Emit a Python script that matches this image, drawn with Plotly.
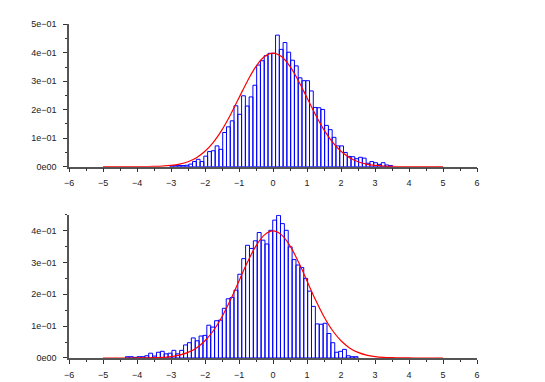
import plotly.graph_objects as go
from plotly.subplots import make_subplots

# ---------------- data ----------------
# top histogram: first bin edge, bin width, bin heights (density)
top_edge0 = -3.033
top_width = 0.111
top_heights = [0.003, 0.004, 0.004, 0.004, 0.005, 0.009, 0.018, 0.026, 0.018, 0.037,
               0.053, 0.056, 0.073, 0.061, 0.120, 0.140, 0.161, 0.214, 0.184, 0.249,
               0.213, 0.245, 0.286, 0.357, 0.372, 0.390, 0.398, 0.398, 0.462, 0.412,
               0.436, 0.402, 0.374, 0.354, 0.312, 0.302, 0.302, 0.266, 0.208, 0.207,
               0.201, 0.145, 0.130, 0.103, 0.073, 0.073, 0.050, 0.036, 0.035, 0.028,
               0.033, 0.030, 0.012, 0.018, 0.014, 0.008, 0.014, 0.006, 0.004]

# bottom histogram
bot_edge0 = -4.34
bot_width = 0.114
bot_heights = [0.004, 0.004, 0.002, 0.004, 0.004, 0.007, 0.015, 0.006, 0.018, 0.021,
               0.013, 0.015, 0.024, 0.013, 0.024, 0.041, 0.048, 0.063, 0.054, 0.069,
               0.071, 0.103, 0.097, 0.117, 0.119, 0.156, 0.186, 0.190, 0.213, 0.263,
               0.312, 0.354, 0.344, 0.368, 0.394, 0.370, 0.358, 0.401, 0.433, 0.448,
               0.422, 0.401, 0.349, 0.309, 0.292, 0.284, 0.250, 0.210, 0.162, 0.107,
               0.106, 0.109, 0.077, 0.048, 0.018, 0.021, 0.027, 0.007, 0.004, 0.004]

# red density curve, values read at steps of 0.25 from -5 to 5
curve_x = [-5.0, -4.75, -4.5, -4.25, -4.0, -3.75, -3.5, -3.25, -3.0, -2.75,
           -2.5, -2.25, -2.0, -1.75, -1.5, -1.25, -1.0, -0.75, -0.5, -0.25,
           0.0, 0.25, 0.5, 0.75, 1.0, 1.25, 1.5, 1.75, 2.0, 2.25,
           2.5, 2.75, 3.0, 3.25, 3.5, 3.75, 4.0, 4.25, 4.5, 4.75, 5.0]
curve_y = [0.0, 0.0, 0.0, 0.0, 0.0001, 0.0004, 0.0009, 0.002, 0.0044, 0.0091,
           0.0175, 0.0317, 0.054, 0.0863, 0.1295, 0.1826, 0.242, 0.3011, 0.3521, 0.3867,
           0.3989, 0.3867, 0.3521, 0.3011, 0.242, 0.1826, 0.1295, 0.0863, 0.054, 0.0317,
           0.0175, 0.0091, 0.0044, 0.002, 0.0009, 0.0004, 0.0001, 0.0, 0.0, 0.0, 0.0]

x_ticks = [-6, -5, -4, -3, -2, -1, 0, 1, 2, 3, 4, 5, 6]
top_yticks = [0.0, 0.1, 0.2, 0.3, 0.4, 0.5]
top_ylabels = ["0e00", "1e\u221201", "2e\u221201", "3e\u221201", "4e\u221201", "5e\u221201"]
bot_yticks = [0.0, 0.1, 0.2, 0.3, 0.4]
bot_ylabels = ["0e00", "1e\u221201", "2e\u221201", "3e\u221201", "4e\u221201"]

# ---------------- figure ----------------
fig = make_subplots(rows=2, cols=1)

def centers(edge0, width, n):
    return [edge0 + width * (i + 0.5) for i in range(n)]

BLUE = "#0000ff"
for row, (e0, w, h) in enumerate([(top_edge0, top_width, top_heights),
                                  (bot_edge0, bot_width, bot_heights)], start=1):
    fig.add_trace(go.Bar(x=centers(e0, w, len(h)), y=h, width=w,
                         marker=dict(color="rgba(0,0,0,0)",
                                     line=dict(color=BLUE, width=1)),
                         showlegend=False, hoverinfo="skip"), row=row, col=1)
    fig.add_trace(go.Scatter(x=curve_x, y=curve_y, mode="lines",
                             line=dict(color="#ff0000", width=1.2, shape="spline"),
                             showlegend=False, hoverinfo="skip"), row=row, col=1)

font = dict(family="Liberation Sans, Arial, sans-serif", size=9, color="#222222")
axis_common = dict(showline=True, linecolor="#555555", linewidth=1.5,
                   showgrid=False, zeroline=False, ticks="outside", ticklen=4,
                   tickcolor="#333333", tickwidth=1, tickfont=font,
                   automargin=False, fixedrange=True)

for ax in ("xaxis", "xaxis2"):
    fig.layout[ax].update(range=[-6, 6], tickvals=x_ticks,
                          minor=dict(dtick=0.5, tick0=0, ticks="outside", ticklen=2.5,
                                     tickcolor="#333333", tickwidth=1),
                          ticklabelstandoff=3, **axis_common)

fig.layout.yaxis.update(range=[0, 0.5], tickvals=top_yticks, ticktext=top_ylabels,
                        domain=[0.5846, 0.9573],
                        minor=dict(dtick=0.05, tick0=0, ticks="outside", ticklen=2.5,
                                   tickcolor="#333333", tickwidth=1),
                        ticklabelstandoff=5, **axis_common)
fig.layout.yaxis2.update(range=[0, 0.45], tickvals=bot_yticks, ticktext=bot_ylabels,
                         domain=[0.0838, 0.4589],
                         minor=dict(dtick=0.05, tick0=0, ticks="outside", ticklen=2.5,
                                    tickcolor="#333333", tickwidth=1),
                         ticklabelstandoff=5, **axis_common)

fig.update_layout(width=545, height=382,
                  margin=dict(l=61, r=76, t=0, b=0, autoexpand=False),
                  paper_bgcolor="white", plot_bgcolor="white",
                  barmode="overlay", showlegend=False)

fig.write_html("out.html")
